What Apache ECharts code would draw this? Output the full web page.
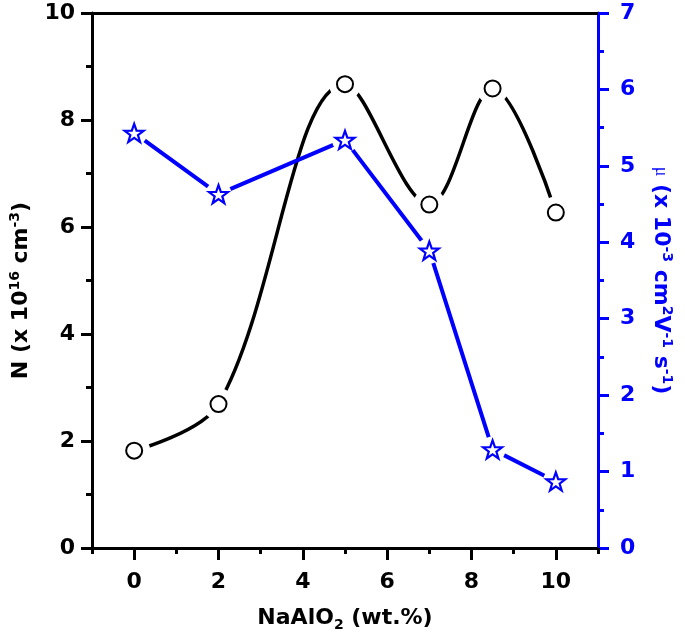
<!DOCTYPE html>
<html><head><meta charset="utf-8">
<script src="https://cdn.jsdelivr.net/npm/echarts@6/dist/echarts.min.js"></script>
<style>html,body{margin:0;padding:0;background:#fff}#c{width:685px;height:641px}</style>
</head><body><div id="c"></div>
<script>
const xValues = [0, 2, 5, 7, 8.5, 10];
const carrierN = [1.82, 2.69, 8.67, 6.42, 8.59, 6.27];
const mobility = [5.43, 4.63, 5.34, 3.89, 1.29, 0.87];
const xMajorTicks = [0, 2, 4, 6, 8, 10];
const xMinorTicks = [-1, 1, 3, 5, 7, 9, 11];

const FONT = '"DejaVu Sans", sans-serif';
const STAR = 'path://M0,-100 L23.5,-32.4 L95.1,-30.9 L38,12.4 L58.8,80.9 L0,40 L-58.8,80.9 L-38,12.4 L-95.1,-30.9 L-23.5,-32.4 Z';
const pts = (ys) => xValues.map((x, i) => [x, ys[i]]);

const chart = echarts.init(document.getElementById('c'), null, {renderer: 'canvas'});
const lbl = {color: '#000', fontFamily: FONT, fontWeight: 'bold', fontSize: 22};
const rich = (color) => ({
  b: {fontFamily: FONT, fontWeight: 'bold', fontSize: 22, color: color},
  m: {fontFamily: '"Liberation Serif", serif', fontSize: 18, color: color},
  sup: {fontFamily: FONT, fontWeight: 'bold', fontSize: 14, color: color, verticalAlign: 'top', padding: [0, 0, 12, 0]},
  sub: {fontFamily: FONT, fontWeight: 'bold', fontSize: 14, color: color, verticalAlign: 'bottom', padding: [14, 0, 0, 0]}
});
chart.setOption({
  backgroundColor: '#fff',
  animation: false,
  grid: {left: 88, right: 87, top: 13, bottom: 93, containLabel: false},
  xAxis: [
    {
      type: 'value', min: -1, max: 11, position: 'bottom',
      axisLine: {onZero: false, lineStyle: {color: '#000', width: 3}},
      axisTick: {show: true, inside: false, length: 12, lineStyle: {width: 3, color: '#000'}, customValues: xMajorTicks},
      axisLabel: Object.assign({}, lbl, {margin: 23, customValues: xMajorTicks}),
      splitLine: {show: false},
      name: '{b|NaAlO}{sub|2}{b| (wt.%)}', nameLocation: 'middle', nameGap: 56,
      nameTextStyle: {rich: rich('#000')}
    },
    {
      type: 'value', min: -1, max: 11, position: 'bottom',
      axisLine: {show: false, onZero: false},
      axisTick: {show: true, length: 6, lineStyle: {width: 3, color: '#000'}, customValues: xMinorTicks},
      axisLabel: {show: false}, splitLine: {show: false}
    },
    {
      type: 'value', min: -1, max: 11, position: 'top',
      axisLine: {show: true, onZero: false, lineStyle: {color: '#000', width: 3}},
      axisTick: {show: false}, axisLabel: {show: false}, splitLine: {show: false}
    }
  ],
  yAxis: [
    {
      type: 'value', min: 0, max: 10, interval: 2, position: 'left',
      axisLine: {show: true, onZero: false, lineStyle: {color: '#000', width: 3}},
      axisTick: {show: true, length: 11, lineStyle: {width: 3, color: '#000'}},
      minorTick: {show: true, splitNumber: 2, length: 6, lineStyle: {width: 3, color: '#000'}},
      axisLabel: Object.assign({}, lbl, {margin: 17}),
      splitLine: {show: false},
      name: '{b|N (x 10}{sup|16}{b| cm}{sup|-3}{b|)}', nameLocation: 'middle', nameGap: 58,
      nameTextStyle: {padding: [0, 20, 0, 0], rich: rich('#000')}
    },
    {
      type: 'value', min: 0, max: 7, interval: 1, position: 'right',
      axisLine: {show: true, onZero: false, lineStyle: {color: '#0000ff', width: 3}},
      axisTick: {show: true, length: 11, lineStyle: {width: 3, color: '#0000ff'}},
      minorTick: {show: true, splitNumber: 2, length: 6, lineStyle: {width: 3, color: '#0000ff'}},
      axisLabel: Object.assign({}, lbl, {color: '#0000ff', margin: 22}),
      splitLine: {show: false},
      name: '{m|\u03bc}{b| (x 10}{sup|-3}{b| cm}{sup|2}{b|V}{sup|-1}{b| s}{sup|-1}{b|)}',
      nameLocation: 'middle', nameGap: 50, nameRotate: -90,
      nameTextStyle: {rich: rich('#0000ff')}
    }
  ],
  series: [
    {type: 'line', xAxisIndex: 0, yAxisIndex: 0, data: pts(carrierN), smooth: 0.35,
      showSymbol: true, symbol: 'circle', symbolSize: 32,
      itemStyle: {color: '#ffffff', borderWidth: 0, opacity: 1},
      lineStyle: {color: '#000', width: 3.5}, z: 2, silent: true},
    {type: 'line', xAxisIndex: 0, yAxisIndex: 1, data: pts(mobility), smooth: false,
      showSymbol: true, symbol: 'circle', symbolSize: 26,
      itemStyle: {color: '#ffffff', borderWidth: 0, opacity: 1},
      lineStyle: {color: '#0000ff', width: 4}, z: 2, silent: true},
    {type: 'scatter', xAxisIndex: 0, yAxisIndex: 0, data: pts(carrierN), symbol: 'circle', symbolSize: 16,
      itemStyle: {color: '#fff', borderColor: '#000', borderWidth: 2, opacity: 1}, z: 4},
    {type: 'scatter', xAxisIndex: 0, yAxisIndex: 1, data: pts(mobility), symbol: STAR, symbolSize: 19, symbolKeepAspect: true,
      itemStyle: {color: '#fff', borderColor: '#0000ff', borderWidth: 2.2, opacity: 1}, z: 4}
  ]
});
</script></body></html>
